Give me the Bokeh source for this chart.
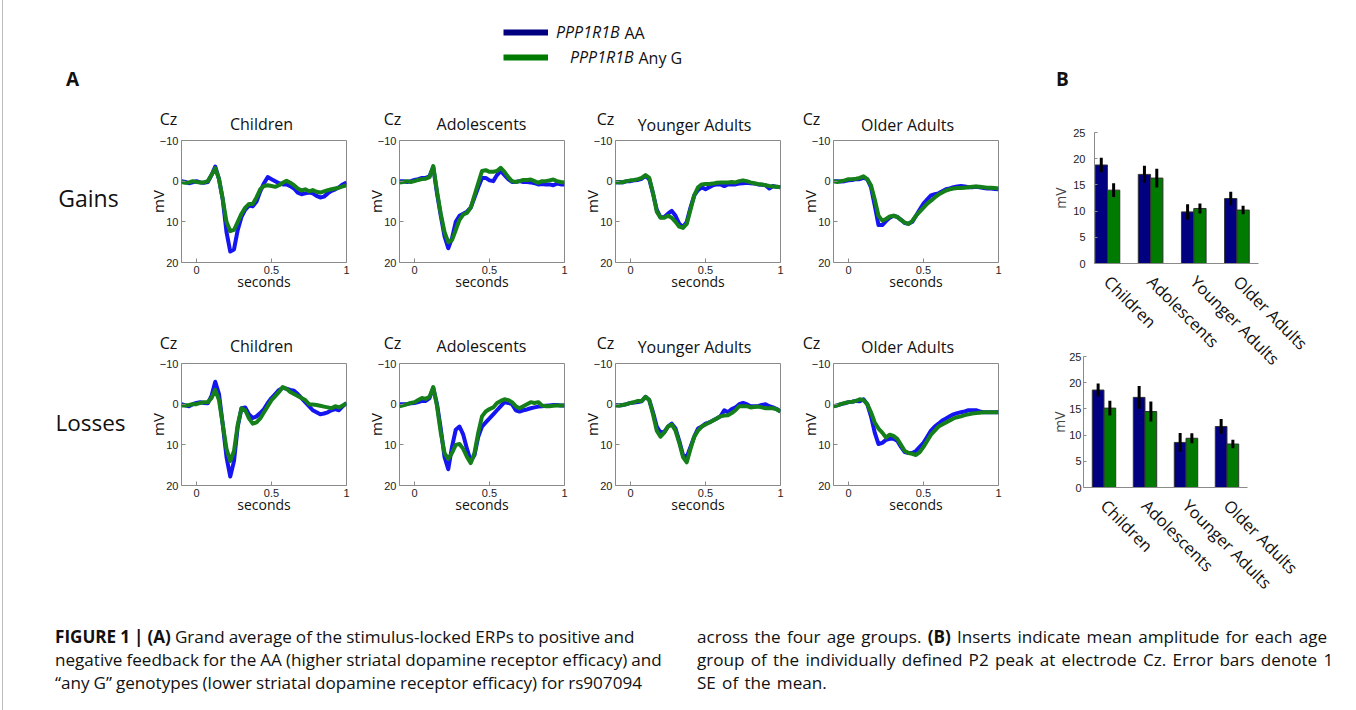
import math
from bokeh.plotting import figure
from bokeh.models import Range1d, FixedTicker, Label, Legend, LegendItem, ColumnDataSource, Div
from bokeh.layouts import column, row
from bokeh.transform import dodge
from bokeh.embed import file_html
from bokeh.resources import INLINE

# ---------------- data ----------------
time_s = [-0.1, -0.075, -0.05, -0.025, 0.0, 0.025, 0.05, 0.075, 0.1, 0.125, 0.15, 0.175,
          0.2, 0.225, 0.25, 0.275, 0.3, 0.325, 0.35, 0.375, 0.4, 0.425, 0.45, 0.475,
          0.5, 0.525, 0.55, 0.575, 0.6, 0.625, 0.65, 0.675, 0.7, 0.725, 0.75, 0.775,
          0.8, 0.825, 0.85, 0.875, 0.9, 0.925, 0.95, 0.975, 1.0]

groups = ["Children", "Adolescents", "Younger Adults", "Older Adults"]

gains_children_aa = [0.0, 0.2, 0.5, 0.3, 0.0, 0.3, 0.4, 0.2, -1.5, -3.6, -0.5, 4.5, 12.5, 17.3, 16.8, 12.0,
                     8.8, 7.0, 6.0, 6.2, 5.0, 2.5, 0.5, -1.0, -0.5, 0.0, 0.5, 0.8, 0.8, 1.2, 1.8, 2.8,
                     3.2, 3.0, 2.8, 3.0, 3.6, 4.0, 3.8, 3.0, 2.4, 2.0, 1.5, 0.8, 0.3]
gains_children_g = [0.2, 0.4, 0.3, 0.0, 0.2, 0.3, 0.3, 0.0, -1.5, -3.2, -0.5, 4.5, 10.0, 12.3, 12.0, 10.0,
                    8.0, 6.5, 5.6, 5.6, 4.0, 2.0, 1.2, 1.0, 1.2, 1.4, 1.0, 0.4, -0.1, 0.4, 1.0, 1.8,
                    2.3, 2.0, 2.5, 2.2, 2.6, 2.8, 2.5, 2.2, 2.0, 1.8, 1.6, 1.3, 1.0]
gains_adolescents_aa = [0.0, 0.0, 0.2, 0.0, -0.3, -0.5, -0.8, -0.8, -1.2, -3.5, 3.0, 8.5, 13.5, 16.5, 14.0, 10.0,
                        8.5, 8.0, 7.5, 6.5, 4.0, 1.5, -0.8, -0.8, -0.2, 0.0, -1.5, -2.5, -1.5, -0.5, 0.2, 0.2,
                        0.0, 0.2, 0.2, 0.3, 0.5, 0.8, 0.7, 0.8, 0.8, 1.0, 0.6, 0.8, 0.8]
gains_adolescents_g = [0.3, 0.2, 0.0, 0.2, 0.0, -0.3, -0.5, -0.6, -1.0, -3.7, 2.5, 8.0, 12.5, 15.0, 14.5, 12.0,
                       9.5, 8.2, 7.8, 6.5, 3.5, 0.5, -2.5, -2.7, -2.3, -2.3, -2.5, -3.3, -2.3, -1.0, 0.0, 0.2,
                       0.0, -0.3, -0.3, -0.4, 0.0, 0.4, 0.0, 0.0, -0.2, -0.4, 0.0, 0.2, 0.3]
gains_younger_aa = [0.3, 0.2, 0.3, 0.0, 0.0, -0.2, -0.3, -0.6, -1.3, -0.5, 3.0, 7.0, 8.9, 8.8, 8.0, 7.3,
                    8.5, 10.5, 11.3, 10.0, 6.5, 3.5, 2.2, 1.5, 2.0, 1.5, 1.0, 0.8, 0.8, 1.2, 0.8, 0.8,
                    0.8, 0.6, 0.5, 0.4, 0.5, 0.6, 0.8, 0.9, 1.0, 1.8, 1.2, 1.4, 1.5]
gains_younger_g = [0.2, 0.3, 0.2, 0.0, -0.2, -0.3, -0.5, -0.8, -1.5, -0.8, 3.0, 7.5, 9.0, 9.0, 8.5, 9.0,
                   10.0, 11.2, 11.5, 10.5, 7.0, 3.5, 1.5, 0.8, 0.7, 0.7, 0.6, 0.4, 0.3, 0.3, 0.3, 0.2,
                   0.3, 0.0, -0.2, 0.0, 0.3, 0.5, 0.7, 0.8, 1.0, 1.2, 1.3, 1.4, 1.5]
gains_older_aa = [0.0, 0.0, 0.1, 0.0, -0.2, -0.3, -0.5, -0.5, -0.8, -0.5, 1.5, 6.0, 10.8, 10.8, 9.8, 9.0,
                  8.5, 8.8, 9.5, 10.3, 10.5, 10.0, 8.5, 7.0, 5.5, 4.5, 3.5, 3.2, 3.0, 2.5, 2.0, 1.8,
                  1.5, 1.3, 1.2, 1.3, 1.5, 1.5, 1.4, 1.5, 1.7, 1.8, 1.8, 1.9, 2.0]
gains_older_g = [0.0, 0.2, 0.0, -0.2, -0.5, -0.5, -0.6, -0.8, -1.2, -0.5, 1.0, 4.5, 8.5, 9.7, 9.3, 8.7,
                 8.5, 8.8, 9.5, 10.2, 10.5, 9.8, 8.5, 7.5, 6.5, 5.5, 4.8, 4.0, 3.3, 2.8, 2.3, 2.0,
                 1.8, 1.7, 1.7, 1.6, 1.5, 1.4, 1.3, 1.4, 1.5, 1.6, 1.6, 1.7, 1.8]

losses_children_aa = [0.0, 0.3, 0.5, 0.0, -0.3, -0.5, -0.3, -0.2, -2.0, -5.5, -2.5, 5.0, 13.0, 17.8, 14.0, 5.5,
                      1.0, 0.8, 2.5, 3.4, 3.0, 2.2, 1.2, -0.3, -1.5, -2.5, -3.5, -4.0, -3.8, -3.5, -3.3, -2.5,
                      -1.5, -0.5, 0.5, 1.5, 2.0, 2.5, 2.3, 2.0, 1.5, 1.2, 1.5, 0.5, -0.3]
losses_children_g = [0.3, 0.3, 0.2, 0.0, 0.0, -0.3, -0.5, -0.5, -1.5, -3.5, -1.0, 5.0, 11.0, 14.0, 11.5, 5.0,
                     1.0, 1.5, 3.5, 4.8, 4.5, 3.5, 2.0, 0.5, -1.0, -2.0, -3.0, -4.2, -3.8, -3.0, -2.5, -2.0,
                     -1.5, -1.0, 0.0, 0.1, 0.2, 0.4, 0.6, 0.8, 1.0, 0.5, 0.8, 0.3, -0.2]
losses_adolescents_aa = [0.0, 0.0, 0.0, -0.2, -0.3, -0.5, -0.8, -0.8, -1.5, -4.0, 0.0, 6.0, 13.0, 16.0, 10.5, 6.3,
                         5.5, 7.5, 11.0, 14.0, 12.5, 8.0, 5.5, 4.5, 3.5, 2.5, 1.5, 0.5, -0.5, -0.3, 0.0, 1.5,
                         1.8, 1.5, 1.3, 1.0, 0.8, 0.6, 0.5, 0.4, 0.3, 0.2, 0.2, 0.3, 0.3]
losses_adolescents_g = [0.5, 0.3, 0.0, -0.3, -0.5, -1.0, -1.5, -1.3, -1.8, -4.2, 0.5, 7.0, 12.0, 13.5, 12.0, 10.0,
                        9.8, 11.0, 13.0, 14.5, 12.0, 7.0, 3.0, 1.8, 1.2, 0.8, -0.3, -0.8, -1.2, -1.0, -0.5, 0.5,
                        1.0, 0.5, 0.0, -0.5, -0.3, -0.5, 0.3, 0.5, 0.5, 0.4, 0.3, 0.3, 0.3]
losses_younger_aa = [0.2, 0.3, 0.2, 0.0, -0.3, -0.4, -0.5, -0.7, -1.8, -1.0, 2.0, 5.5, 7.0, 6.8, 5.5, 4.8,
                     6.0, 9.0, 12.5, 13.0, 10.5, 8.0, 6.0, 5.5, 4.8, 4.5, 4.0, 3.5, 3.0, 1.5, 2.0, 1.2,
                     0.8, 0.0, -0.3, 0.0, 0.5, 0.5, 0.5, 0.2, 0.0, 0.5, 0.8, 1.2, 1.8]
losses_younger_g = [0.3, 0.3, 0.2, 0.0, -0.3, -0.5, -0.8, -0.8, -1.8, -1.0, 2.5, 6.5, 8.0, 7.0, 5.5, 5.0,
                    6.5, 9.5, 13.0, 14.3, 11.0, 8.0, 6.5, 5.5, 5.0, 4.5, 4.0, 3.5, 3.0, 2.8, 2.7, 2.2,
                    1.5, 0.5, 0.5, 0.5, 0.8, 0.7, 0.6, 0.8, 1.0, 1.0, 1.0, 1.3, 1.8]
losses_older_aa = [0.5, 0.3, 0.0, -0.2, -0.5, -0.6, -0.8, -0.7, -1.2, 0.0, 3.0, 7.0, 9.8, 9.5, 8.8, 8.5,
                   8.5, 9.0, 10.5, 11.8, 12.0, 12.0, 11.5, 10.5, 9.5, 8.0, 6.5, 5.5, 4.8, 4.0, 3.5, 3.0,
                   2.5, 2.2, 2.0, 1.8, 1.5, 1.5, 1.5, 1.8, 2.0, 2.0, 2.0, 2.0, 2.0]
losses_older_g = [0.5, 0.3, 0.0, -0.3, -0.5, -0.6, -0.8, -1.2, -1.0, 0.0, 2.0, 4.5, 6.0, 7.0, 8.2, 7.5,
                  7.8, 8.5, 10.0, 11.5, 12.0, 12.2, 12.5, 11.8, 10.5, 9.0, 7.5, 6.5, 5.5, 5.0, 4.5, 4.0,
                  3.5, 3.2, 3.0, 2.7, 2.5, 2.3, 2.2, 2.1, 2.0, 2.0, 2.0, 2.0, 2.0]

# P2 peak amplitude (mV) and SE
gain_mean_aa = [18.8, 17.0, 9.85, 12.4]
gain_se_aa = [1.4, 1.65, 1.45, 1.3]
gain_mean_g = [14.0, 16.3, 10.5, 10.2]
gain_se_g = [1.3, 1.8, 0.95, 0.8]
loss_mean_aa = [18.6, 17.2, 8.6, 11.65]
loss_se_aa = [1.25, 2.15, 1.8, 1.4]
loss_mean_g = [15.15, 14.5, 9.4, 8.3]
loss_se_g = [1.4, 1.9, 0.95, 0.83]

erp_ticks_x = [0, 0.5, 1]
erp_ticks_y = [-10, 0, 10, 20]
bar_ticks_y = [0, 5, 10, 15, 20, 25]

# ---------------- styles / layout constants ----------------
LINE_BLUE = "#1515F2"
LINE_GREEN = "#15801A"
BAR_BLUE = "#000080"
BAR_GREEN = "#007A00"
FONT = "Open Sans"
TICK_FONT = "Liberation Sans"
TXT = "#111111"
FW, FH = 165, 122          # ERP frame size in px
XR = (-0.1, 1.0)
YR = (20, -10)
OX = 3                     # page x where the bordered content starts
ERP_W = 1006 - OX
TOTAL_W = 1353 - OX


def text_canvas(width, height):
    """an axis-less figure whose data coordinates are its pixels (y downward)"""
    p = figure(width=width, height=height, x_range=Range1d(0, width), y_range=Range1d(height, 0),
               x_axis_type=None, y_axis_type=None, min_border=0, title=None,
               toolbar_location=None, output_backend="svg")
    p.outline_line_color = None
    p.grid.visible = False
    p.background_fill_color = None
    p.border_fill_color = None
    return p


def add_text(p, x, y, text, size, align="center", style="normal"):
    """x is given in page pixels"""
    p.add_layout(Label(x=x - OX, y=y, text=text, text_font=FONT, text_font_size=size,
                       text_font_style=style, text_align=align, text_baseline="middle",
                       text_color=TXT))


def erp_panel(aa, g, border_left):
    p = figure(width=border_left + FW + 8, height=5 + FH + 46,
               x_range=Range1d(*XR), y_range=Range1d(*YR), title=None,
               min_border_left=border_left, min_border_right=8,
               min_border_top=5, min_border_bottom=46,
               toolbar_location=None, output_backend="svg")
    p.grid.visible = False
    p.outline_line_color = "#8a8a8a"
    p.outline_line_width = 1
    p.border_fill_color = None
    src = ColumnDataSource(dict(t=time_s, aa=aa, g=g))
    p.line("t", "aa", source=src, line_color=LINE_BLUE, line_width=4, line_join="round")
    p.line("t", "g", source=src, line_color=LINE_GREEN, line_width=4, line_join="round")

    for ax in (p.xaxis[0], p.yaxis[0]):
        ax.axis_line_color = None
        ax.major_tick_in = 4
        ax.major_tick_out = 0
        ax.minor_tick_line_color = None
        ax.major_tick_line_color = "#8a8a8a"
        ax.major_label_text_font = TICK_FONT
        ax.major_label_text_font_size = "11px"
        ax.major_label_text_color = "#222222"
        ax.major_label_standoff = 3
        ax.axis_label_text_font = FONT
        ax.axis_label_text_font_style = "normal"
        ax.axis_label_text_color = TXT
    p.xaxis.ticker = FixedTicker(ticks=erp_ticks_x)
    p.xaxis.major_label_overrides = {0: "0", 0.5: "0.5", 1: "1"}
    p.xaxis.axis_label = "seconds"
    p.xaxis.axis_label_text_font_size = "14px"
    p.xaxis.axis_label_standoff = -5
    p.yaxis.ticker = FixedTicker(ticks=erp_ticks_y)
    p.yaxis.major_label_overrides = {-10: "\u221210", 0: "0", 10: "10", 20: "20"}
    p.yaxis.axis_label = "mV"
    p.yaxis.axis_label_text_font_size = "15px"
    p.yaxis.axis_label_standoff = -11
    return p


def bar_panel(mean_aa, se_aa, mean_g, se_g, xr, width, border_left, frame_w, border_top, border_bottom,
              tick_standoff, label_standoff, margin):
    p = figure(width=width, height=border_top + 131 + border_bottom,
               x_range=Range1d(*xr), y_range=Range1d(0, 25), title=None,
               min_border_left=border_left, min_border_right=width - border_left - frame_w,
               min_border_top=border_top, min_border_bottom=border_bottom,
               toolbar_location=None, output_backend="svg", margin=margin)
    p.background_fill_color = None
    p.border_fill_color = None
    p.outline_line_color = None
    p.grid.visible = False
    pos = list(range(1, len(groups) + 1))
    src = ColumnDataSource(dict(pos=pos, aa=mean_aa, g=mean_g,
                                aa_lo=[m - s for m, s in zip(mean_aa, se_aa)],
                                aa_hi=[m + s for m, s in zip(mean_aa, se_aa)],
                                g_lo=[m - s for m, s in zip(mean_g, se_g)],
                                g_hi=[m + s for m, s in zip(mean_g, se_g)]))
    off = 0.143
    bw = 0.285
    p.vbar(x=dodge("pos", -off, range=p.x_range), top="aa", width=bw, source=src,
           fill_color=BAR_BLUE, line_color="#333333", line_width=1)
    p.vbar(x=dodge("pos", off, range=p.x_range), top="g", width=bw, source=src,
           fill_color=BAR_GREEN, line_color="#333333", line_width=1)
    p.segment(x0=dodge("pos", -off, range=p.x_range), x1=dodge("pos", -off, range=p.x_range),
              y0="aa_lo", y1="aa_hi", source=src, line_color="black", line_width=3)
    p.segment(x0=dodge("pos", off, range=p.x_range), x1=dodge("pos", off, range=p.x_range),
              y0="g_lo", y1="g_hi", source=src, line_color="black", line_width=3)

    p.xaxis.ticker = FixedTicker(ticks=pos)
    p.xaxis.major_label_overrides = {i: name for i, name in zip(pos, groups)}
    p.xaxis.major_label_orientation = -math.pi / 4
    p.xaxis.major_label_text_font = FONT
    p.xaxis.major_label_text_font_size = "16.5px"
    p.xaxis.major_label_text_color = TXT
    p.xaxis.major_label_standoff = 9
    p.xaxis.major_tick_line_color = None
    p.xaxis.minor_tick_line_color = None
    p.xaxis.axis_line_color = "#8a8a8a"

    p.yaxis.ticker = FixedTicker(ticks=bar_ticks_y)
    p.yaxis.major_label_text_font = TICK_FONT
    p.yaxis.major_label_text_font_size = "11px"
    p.yaxis.major_label_text_color = "#222222"
    p.yaxis.major_label_standoff = tick_standoff
    p.yaxis.major_tick_in = 3
    p.yaxis.major_tick_out = 0
    p.yaxis.major_tick_line_color = "#8a8a8a"
    p.yaxis.minor_tick_line_color = None
    p.yaxis.axis_line_color = "#8a8a8a"
    p.yaxis.axis_label = "mV"
    p.yaxis.axis_label_text_font = FONT
    p.yaxis.axis_label_text_font_style = "normal"
    p.yaxis.axis_label_text_font_size = "14px"
    p.yaxis.axis_label_standoff = label_standoff
    return p


# ---------------- top band: legend and panel letters ----------------
top = text_canvas(TOTAL_W, 100)
legend_src = ColumnDataSource(dict(t=time_s, aa=gains_children_aa, g=gains_children_g))
r_aa = top.line("t", "aa", source=legend_src, line_color=BAR_BLUE, line_width=6, visible=False)
r_g = top.line("t", "g", source=legend_src, line_color=BAR_GREEN, line_width=6, visible=False)
for rend, y_bottom, standoff in ((r_aa, 100 - 43, 8), (r_g, 100 - 68, 22)):
    lg = Legend(items=[LegendItem(label="PPP1R1B", renderers=[rend])],
                location=(503 - OX, y_bottom), padding=0, spacing=0, margin=0,
                glyph_width=45, glyph_height=22, label_height=22, label_standoff=standoff,
                label_text_font=FONT, label_text_font_size="16px", label_text_font_style="italic",
                label_text_color=TXT, border_line_color=None, background_fill_alpha=0,
                inactive_fill_alpha=0)
    top.add_layout(lg)
add_text(top, 624, 32, "AA", "16px", align="left")
add_text(top, 638, 57, "Any G", "16px", align="left")
add_text(top, 72, 78, "A", "19px", style="bold")
add_text(top, 1062, 78, "B", "19px", style="bold")

# ---------------- ERP grid ----------------
gain_sets = [(gains_children_aa, gains_children_g), (gains_adolescents_aa, gains_adolescents_g),
             (gains_younger_aa, gains_younger_g), (gains_older_aa, gains_older_g)]
loss_sets = [(losses_children_aa, losses_children_g), (losses_adolescents_aa, losses_adolescents_g),
             (losses_younger_aa, losses_younger_g), (losses_older_aa, losses_older_g)]
left_borders = [45, 45, 43, 45]
title_x = [261, 481, 694, 907]
cz_x = [168, 392, 605, 811]

hdr_gain = text_canvas(ERP_W, 35)          # page y 100..135
for i, name in enumerate(groups):
    add_text(hdr_gain, title_x[i], 23 + (1 if i >= 2 else 0), name, "16px")
    add_text(hdr_gain, cz_x[i], 18, "Cz", "16px")
lab_gain = text_canvas(136 - OX, 173)      # page y 135..308
add_text(lab_gain, 88, 82, "Gains", "23px")

hdr_loss = text_canvas(ERP_W, 50)          # page y 308..358
for i, name in enumerate(groups):
    add_text(hdr_loss, title_x[i], 37 + (1 if i >= 2 else 0), name, "16px")
    add_text(hdr_loss, cz_x[i], 34, "Cz", "16px")
lab_loss = text_canvas(136 - OX, 173)      # page y 358..531
add_text(lab_loss, 90, 83, "Losses", "22.5px")

gain_row = [lab_gain] + [erp_panel(gain_sets[i][0], gain_sets[i][1], left_borders[i]) for i in range(4)]
loss_row = [lab_loss] + [erp_panel(loss_sets[i][0], loss_sets[i][1], left_borders[i]) for i in range(4)]

erp_block = column(hdr_gain, row(gain_row), hdr_loss, row(loss_row))

# ---------------- bar charts ----------------
BAR_W = TOTAL_W - ERP_W
bar_gain = bar_panel(gain_mean_aa, gain_se_aa, gain_mean_g, gain_se_g, (0.7, 4.5),
                     BAR_W, 88, 164, 32, 117, 9, 0, (0, 0, 0, 0))
bar_loss = bar_panel(loss_mean_aa, loss_se_aa, loss_mean_g, loss_se_g, (0.5, 4.5),
                     BAR_W, 88, 173, 13, 120, 2, -3, (-37, 0, 0, -11))
bar_block = column(bar_gain, bar_loss)

# ---------------- caption ----------------
caption_html = (
    '<div style="position:relative;font-family:\'Open Sans\';font-size:17.1px;line-height:23px;'
    'color:#111;white-space:nowrap;">'
    '<div style="position:absolute;left:47px;top:1px;word-spacing:-0.4px;">'
    '<b>FIGURE 1 | (A)</b> Grand average of the stimulus-locked ERPs to positive and<br>'
    'negative feedback for the AA (higher striatal dopamine receptor efficacy) and<br>'
    '&ldquo;any G&rdquo; genotypes (lower striatal dopamine receptor efficacy) for rs907094</div>'
    '<div style="position:absolute;left:689px;top:1px;word-spacing:1.8px;">'
    'across the four age groups. <b>(B)</b> Inserts indicate mean amplitude for each age<br>'
    'group of the individually defined P2 peak at electrode Cz. Error bars denote 1<br>'
    'SE of the mean.</div></div>'
)
caption = Div(text=caption_html, width=TOTAL_W, height=96)

layout = column(top, row(erp_block, bar_block), caption, margin=(0, 0, 0, 2),
                styles={"border-left": "1px solid #bdbdbd", "border-right": "1px solid #bdbdbd"})

open("out.html", "w").write(file_html(layout, INLINE))
